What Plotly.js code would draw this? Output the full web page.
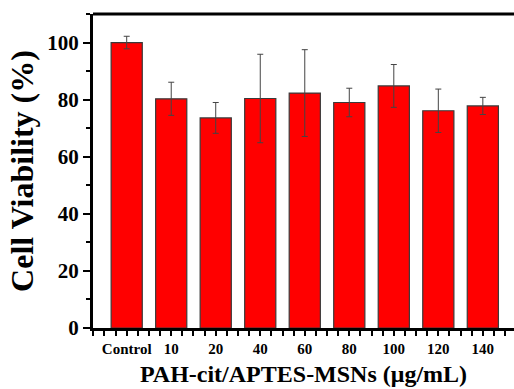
<!DOCTYPE html>
<html>
<head>
<meta charset="utf-8">
<script src="https://cdn.plot.ly/plotly-3.0.1.min.js"></script>
<style>html,body{margin:0;padding:0;background:#fff;overflow:hidden;}#chart{width:514px;height:389px;}</style>
</head>
<body>
<div id="chart"></div>
<script>
// Data
const categories = ["Control", "10", "20", "40", "60", "80", "100", "120", "140"];
const viability = [100.0, 80.3, 73.6, 80.4, 82.3, 79.0, 84.8, 76.1, 77.8];
const errors = [2.2, 5.8, 5.4, 15.5, 15.2, 5.0, 7.5, 7.6, 3.0];
const yTickValues = [0, 20, 40, 60, 80, 100];

const xIndex = categories.map((c, i) => i);
const serif = "Liberation Serif, Times New Roman, serif";

const trace = {
  type: "bar",
  x: xIndex,
  y: viability,
  width: 0.70,
  marker: { color: "#ff0000", line: { color: "#3a3a3a", width: 1.2 } },
  error_y: { type: "data", array: errors, visible: true, color: "#444444", thickness: 1, width: 3 },
  hoverinfo: "skip"
};

const layout = {
  width: 514,
  height: 389,
  margin: { l: 93, r: 0, t: 14, b: 61, pad: 0 },
  paper_bgcolor: "#ffffff",
  plot_bgcolor: "#ffffff",
  showlegend: false,
  bargap: 0.3,
  shapes: [
    { type: "line", xref: "paper", yref: "paper", x0: 0, x1: 1.02, y0: 1, y1: 1, line: { color: "#000", width: 3 } }
  ],
  xaxis: {
    type: "linear",
    range: [-0.757, 8.70],
    tickvals: xIndex,
    ticktext: categories,
    ticks: "outside",
    ticklen: 5,
    tickwidth: 2,
    tickcolor: "#000",
    minor: { tick0: 0, dtick: 0.25, ticks: "outside", ticklen: 5, tickwidth: 2, tickcolor: "#000" },
    showline: true,
    linewidth: 3,
    linecolor: "#000",
    mirror: false,
    showgrid: false,
    zeroline: false,
    tickfont: { family: serif, size: 15, color: "#000", weight: "bold" },
    title: {
      text: "PAH-cit/APTES-MSNs (μg/mL)",
      font: { family: serif, size: 24, color: "#000", weight: "bold" },
      standoff: 10
    }
  },
  yaxis: {
    range: [0, 110],
    tickvals: yTickValues,
    ticks: "outside",
    ticklen: 7,
    tickwidth: 2,
    tickcolor: "#000",
    minor: { tick0: 0, dtick: 10, ticks: "outside", ticklen: 4, tickwidth: 2, tickcolor: "#000" },
    showline: true,
    linewidth: 3,
    linecolor: "#000",
    mirror: false,
    showgrid: false,
    zeroline: false,
    tickfont: { family: serif, size: 21, color: "#000", weight: "bold" },
    title: {
      text: "Cell Viability (%)",
      font: { family: serif, size: 32, color: "#000", weight: "bold" },
      standoff: 5
    }
  }
};

Plotly.newPlot("chart", [trace], layout, { displayModeBar: false, staticPlot: true });
</script>
</body>
</html>
